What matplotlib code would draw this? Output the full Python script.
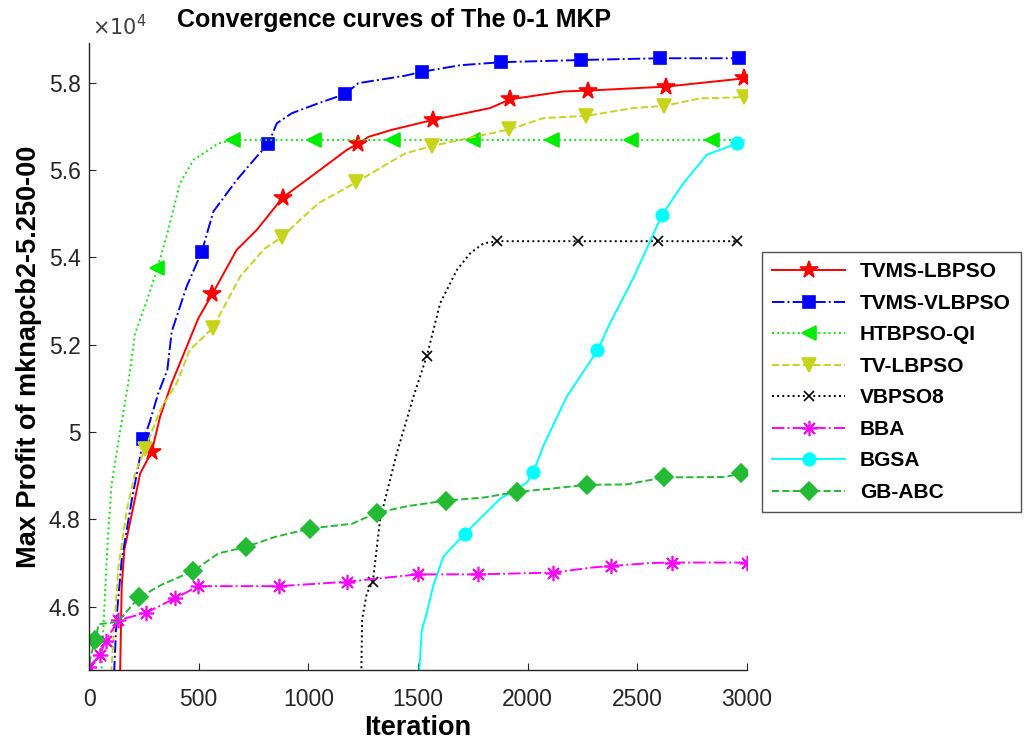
import matplotlib
matplotlib.use("Agg")
import matplotlib.pyplot as plt

plt.rcParams['font.family'] = ['Liberation Sans', 'DejaVu Sans']

# values are in units of 1e4
lb_x = [140, 149, 161, 202, 233, 286, 324, 377, 445, 498, 562, 673, 765, 883, 1023, 1175, 1225,
        1274, 1380, 1570, 1829, 1920, 2163, 2277, 2630, 2988]
lb_y = [4.40, 4.646, 4.73, 4.829, 4.905, 4.955, 5.035, 5.112, 5.195, 5.26, 5.316, 5.417, 5.463, 5.537,
        5.589, 5.646, 5.660, 5.676, 5.692, 5.715, 5.742, 5.762, 5.780, 5.782, 5.791, 5.810]
lb_mk = [286, 562, 883, 1225, 1570, 1920, 2277, 2630, 2988]

vl_x = [113, 115, 126, 149, 195, 248, 275, 316, 357, 377, 445, 514, 567, 673, 765, 818, 856, 924,
        1046, 1167, 1228, 1441, 1517, 1692, 1879, 2244, 2601, 2965]
vl_y = [4.40, 4.455, 4.577, 4.707, 4.844, 4.983, 5.02, 5.089, 5.142, 5.23, 5.333, 5.413, 5.505, 5.577,
        5.631, 5.660, 5.707, 5.730, 5.753, 5.774, 5.799, 5.816, 5.825, 5.840, 5.847, 5.852, 5.856, 5.856]
vl_mk = [248, 514, 818, 1167, 1517, 1879, 2244, 2601, 2965]

ht_x = [52, 70, 85, 103, 141, 179, 210, 263, 312, 357, 415, 476, 590, 658, 1028, 1388, 1750, 2110,
        2472, 2839, 2990]
ht_y = [4.40, 4.60, 4.75, 4.88, 5.0, 5.112, 5.226, 5.30, 5.375, 5.455, 5.57, 5.623, 5.661, 5.669,
        5.669, 5.669, 5.669, 5.669, 5.669, 5.669, 5.669]
ht_mk = [312, 658, 1028, 1388, 1750, 2110, 2472, 2839]

tv_x = [94, 134, 172, 210, 255, 324, 400, 459, 564, 689, 800, 879, 954, 1046, 1218, 1441, 1563,
        1692, 1917, 2072, 2266, 2482, 2622, 2786, 2984]
tv_y = [4.40, 4.69, 4.821, 4.905, 4.96, 5.05, 5.112, 5.188, 5.238, 5.356, 5.42, 5.446, 5.482, 5.524,
        5.572, 5.638, 5.655, 5.669, 5.693, 5.719, 5.724, 5.742, 5.747, 5.764, 5.767]
tv_mk = [255, 564, 879, 1218, 1563, 1917, 2266, 2622, 2984]

vb_x = [1240, 1245, 1266, 1294, 1327, 1403, 1479, 1540, 1601, 1677, 1737, 1798, 1862, 2228, 2592, 2956]
vb_y = [4.40, 4.57, 4.63, 4.657, 4.8, 4.951, 5.081, 5.174, 5.295, 5.371, 5.409, 5.432, 5.437, 5.437,
        5.437, 5.437]
vb_mk = [1294, 1540, 1862, 2228, 2592, 2956]

bba_x = [0, 50, 76, 134, 260, 392, 498, 868, 1175, 1499, 1775, 2114, 2300, 2380, 2560, 2657, 3000]
bba_y = [4.462, 4.489, 4.522, 4.569, 4.586, 4.619, 4.647, 4.647, 4.657, 4.674, 4.674, 4.678, 4.69,
         4.693, 4.70, 4.701, 4.701]
bba_mk = [0, 50, 76, 134, 260, 392, 498, 868, 1175, 1499, 1775, 2114, 2380, 2657, 3000]

gs_x = [1504, 1506, 1517, 1539, 1570, 1616, 1713, 1874, 1996, 2026, 2072, 2178, 2318, 2376, 2482,
        2611, 2710, 2817, 2956]
gs_y = [4.40, 4.455, 4.546, 4.584, 4.649, 4.715, 4.767, 4.847, 4.884, 4.909, 4.969, 5.081, 5.187,
        5.250, 5.353, 5.496, 5.570, 5.635, 5.661]
gs_mk = [1713, 2026, 2318, 2611, 2956]

ab_x = [0, 27, 45, 130, 228, 330, 476, 590, 716, 850, 1008, 1200, 1312, 1450, 1628, 1800, 1953, 2100,
        2269, 2450, 2623, 2900, 2972]
ab_y = [4.47, 4.523, 4.56, 4.565, 4.621, 4.65, 4.682, 4.722, 4.737, 4.76, 4.779, 4.79, 4.815, 4.83,
        4.843, 4.85, 4.863, 4.87, 4.879, 4.88, 4.896, 4.897, 4.905]
ab_mk = [27, 228, 476, 716, 1008, 1312, 1628, 1953, 2269, 2623, 2972]

x_ticks = [0, 500, 1000, 1500, 2000, 2500, 3000]
y_ticks = [4.6, 4.8, 5.0, 5.2, 5.4, 5.6, 5.8]

series = [
    ("TVMS-LBPSO", lb_x, lb_y, lb_mk, '#ff0000', '-', '*', 13),
    ("TVMS-VLBPSO", vl_x, vl_y, vl_mk, '#0000ff', '-.', 's', 8.5),
    ("HTBPSO-QI", ht_x, ht_y, ht_mk, '#00ee00', ':', '<', 10),
    ("TV-LBPSO", tv_x, tv_y, tv_mk, '#c8d41c', '--', 'v', 10),
    ("VBPSO8", vb_x, vb_y, vb_mk, '#000000', ':', 'x', 7),
    ("BBA", bba_x, bba_y, bba_mk, '#ff00ff', '-.', (8, 2, 0), 11),
    ("BGSA", gs_x, gs_y, gs_mk, '#00ffff', '-', 'o', 9),
    ("GB-ABC", ab_x, ab_y, ab_mk, '#22bb33', '--', 'D', 9),
]

fig = plt.figure(figsize=(10.29, 7.5), dpi=100)
ax = fig.add_axes([0.0865, 0.1067, 0.6395, 0.836])

for name, xs, ys, mk, col, ls, marker, ms in series:
    idx = [xs.index(m) for m in mk]
    ax.plot(xs, ys, color=col, linestyle=ls, linewidth=1.4, marker=marker, markersize=ms,
            markevery=idx, markerfacecolor=col, markeredgecolor=col, markeredgewidth=1.2,
            label=name)

ax.set_xlim(0, 3000)
ax.set_ylim(4.455, 5.891)
ax.set_xticks(x_ticks)
ax.set_yticks(y_ticks)
ax.set_yticklabels(['%g' % t for t in y_ticks])
ax.spines['top'].set_visible(False)
ax.spines['right'].set_visible(False)
for s in ['left', 'bottom']:
    ax.spines[s].set_color('#262626')
    ax.spines[s].set_linewidth(1.0)
ax.tick_params(direction='in', length=5, labelsize=16.5, colors='#262626')
ax.tick_params(axis='x', pad=13)
ax.tick_params(axis='y', pad=6)

ax.set_xlabel("Iteration", fontsize=19.5, fontweight='bold', labelpad=3)
ax.set_ylabel("Max Profit of mknapcb2-5.250-00", fontsize=19.5, fontweight='bold', labelpad=5)
fig.text(177 / 1029, 1 - 20 / 750, "Convergence curves of The 0-1 MKP", fontsize=18,
         fontweight='bold', ha='left', va='center')
fig.text(92 / 1029, 1 - 27 / 750, r"$\times10^4$", fontsize=15, color='#404040',
         ha='left', va='center')

leg = ax.legend(loc='upper left', bbox_to_anchor=(762 / 1029, 1 - 252 / 750),
                bbox_transform=fig.transFigure, borderaxespad=0, fancybox=False,
                handlelength=3.5, handletextpad=0.7, labelspacing=0.6, numpoints=1,
                prop={'weight': 'bold', 'size': 15}, borderpad=0.5)
leg.get_frame().set_edgecolor('#262626')
leg.get_frame().set_linewidth(1.0)

fig.savefig("out.png", dpi=100)
